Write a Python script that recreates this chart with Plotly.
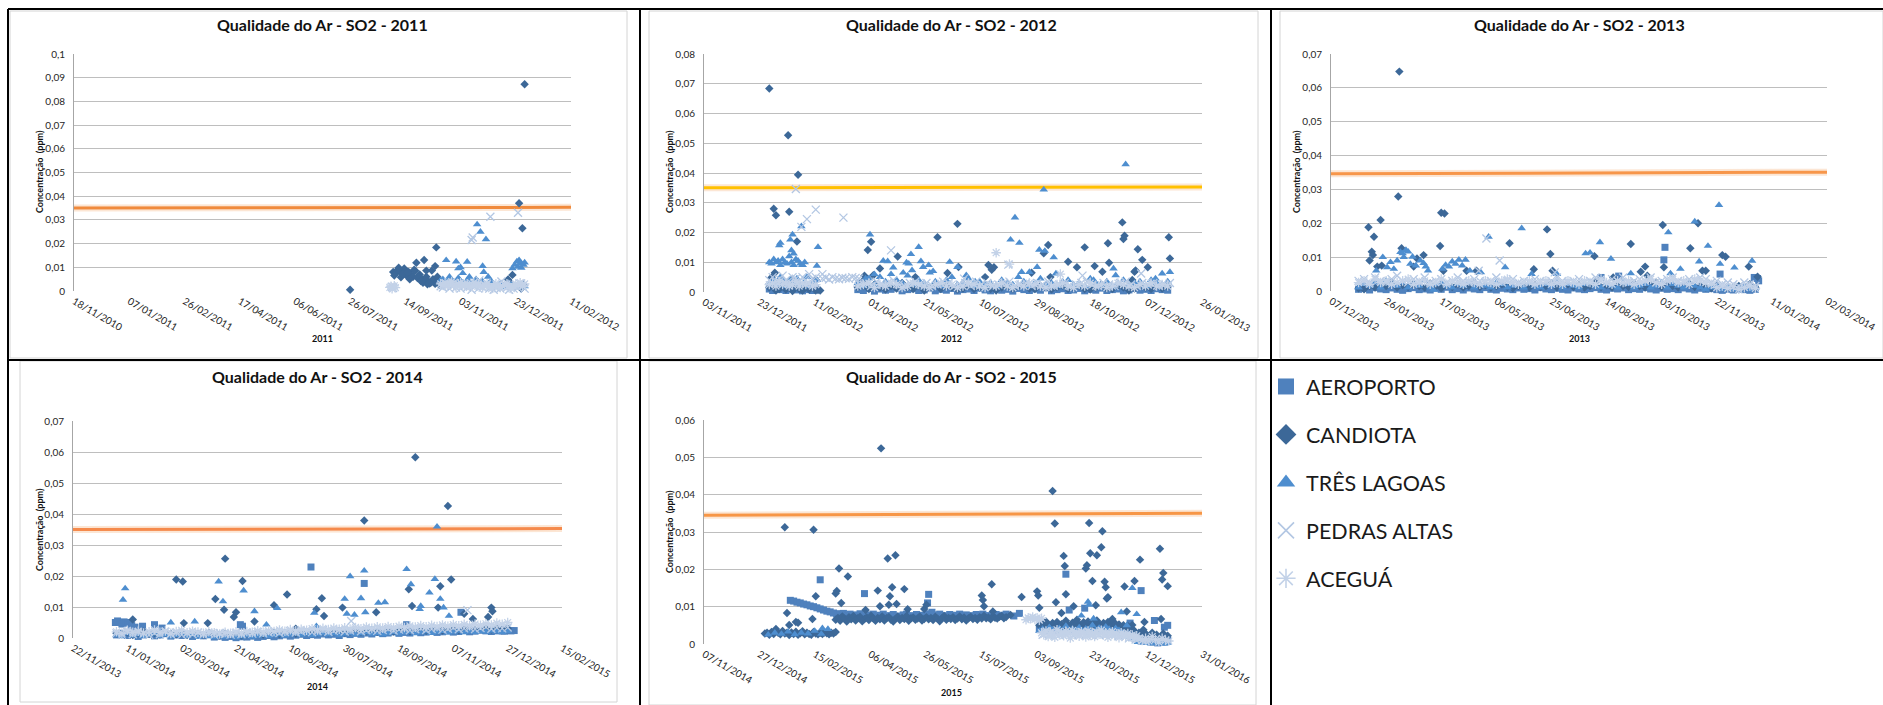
import plotly.graph_objects as go
from datetime import date, timedelta

W, H = 1883, 705
SERIES = ["AEROPORTO", "CANDIOTA", "TRÊS LAGOAS", "PEDRAS ALTAS", "ACEGUÁ"]
YEARS = [2011, 2012, 2013, 2014, 2015]

# ---------------- tick labels ----------------
XTICKS_2011 = ["18/11/2010", "07/01/2011", "26/02/2011", "17/04/2011", "06/06/2011", "26/07/2011", "14/09/2011", "03/11/2011", "23/12/2011", "11/02/2012"]
XTICKS_2012 = ["03/11/2011", "23/12/2011", "11/02/2012", "01/04/2012", "21/05/2012", "10/07/2012", "29/08/2012", "18/10/2012", "07/12/2012", "26/01/2013"]
XTICKS_2013 = ["07/12/2012", "26/01/2013", "17/03/2013", "06/05/2013", "25/06/2013", "14/08/2013", "03/10/2013", "22/11/2013", "11/01/2014", "02/03/2014"]
XTICKS_2014 = ["22/11/2013", "11/01/2014", "02/03/2014", "21/04/2014", "10/06/2014", "30/07/2014", "18/09/2014", "07/11/2014", "27/12/2014", "15/02/2015"]
XTICKS_2015 = ["07/11/2014", "27/12/2014", "15/02/2015", "06/04/2015", "26/05/2015", "15/07/2015", "03/09/2015", "23/10/2015", "12/12/2015", "31/01/2016"]
YTICKS_2011 = ["0", "0,01", "0,02", "0,03", "0,04", "0,05", "0,06", "0,07", "0,08", "0,09", "0,1"]
YTICKS_2012 = ["0", "0,01", "0,02", "0,03", "0,04", "0,05", "0,06", "0,07", "0,08"]
YTICKS_2013 = ["0", "0,01", "0,02", "0,03", "0,04", "0,05", "0,06", "0,07"]
YTICKS_2014 = ["0", "0,01", "0,02", "0,03", "0,04", "0,05", "0,06", "0,07"]
YTICKS_2015 = ["0", "0,01", "0,02", "0,03", "0,04", "0,05", "0,06"]

# limit line (ppb) at start / end of the axis
LIMIT_2011 = [35.0, 35.3]
LIMIT_2012 = [35.0, 35.3]
LIMIT_2013 = [34.6, 35.1]
LIMIT_2014 = [35.0, 35.3]
LIMIT_2015 = [34.5, 35.0]

# ---------------- data (ppb) : bands = (start, step days, values) ; pts = (date, value) ----------------
AERO_2011_BANDS = []
AERO_2011_PTS = []
CAND_2011_BANDS = [("2011-09-03", 2, [8, 7.5, 9, 8.5, 7, 9.5, 6.5, 8, 7, 6, 8.5, 5.5, 7, 5, 4.5, 6, 4, 3.5, 5, 3, 4, 2.5])]
CAND_2011_PTS = [("2011-07-26", 0.5), ("2011-09-04", 6.5), ("2011-09-08", 9.8), ("2011-09-10", 5.8), ("2011-09-12", 7.2), ("2011-09-16", 7.8),
                 ("2011-09-18", 5), ("2011-09-22", 9), ("2011-09-24", 11.9), ("2011-09-26", 6.2), ("2011-09-28", 4.2), ("2011-09-30", 3.5),
                 ("2011-10-01", 13.1), ("2011-10-03", 8.6), ("2011-10-04", 2.8), ("2011-10-06", 3.2), ("2011-10-08", 8.6), ("2011-10-11", 10.5),
                 ("2011-10-12", 18.4), ("2011-10-13", 6), ("2011-12-16", 4.9), ("2011-12-18", 3.5), ("2011-12-20", 6.8), ("2011-12-22", 2),
                 ("2011-12-26", 37), ("2011-12-28", 1), ("2011-12-29", 26.5), ("2011-12-30", 2.5), ("2011-12-31", 87.2)]
TRES_2011_BANDS = [("2011-10-16", 2, [4.5, 5, 4, 3.5, 5, 4.5, 3, 4, 5.5, 4, 3.5, 3, 4.5, 4, 3, 2.5, 5, 4, 3.5, 4, 3, 2.5, 3.5, 4, 3, 2, 2.5, 3, 2, 1.5, 2, 3, 2.5, 2, 1.5, 2, 2.5, 3, 2])]
TRES_2011_PTS = [("2011-10-21", 13), ("2011-10-24", 6), ("2011-10-27", 4), ("2011-10-30", 12.4), ("2011-11-01", 9.5), ("2011-11-03", 10),
                 ("2011-11-05", 7.5), ("2011-11-09", 12.3), ("2011-11-11", 6), ("2011-11-18", 28.1), ("2011-11-21", 25), ("2011-11-23", 10.5),
                 ("2011-11-24", 8), ("2011-11-26", 21.8), ("2011-11-28", 6), ("2011-12-20", 9.5), ("2011-12-22", 11), ("2011-12-24", 12.4),
                 ("2011-12-25", 10.2), ("2011-12-26", 13), ("2011-12-27", 11.7), ("2011-12-28", 9.8), ("2011-12-30", 11), ("2011-12-31", 12)]
PEDR_2011_BANDS = [("2011-10-16", 2, [2, 1.5, 3, 2.5, 1, 2, 3.5, 1.5, 2.5, 1, 2, 3, 1.5, 2.5, 0.5, 2, 3, 1, 2, 1.5, 2.5, 3, 1, 2, 0.5, 1.5, 2.5, 1, 2, 3, 1.5, 0.5, 2, 1, 2.5, 1.5, 3, 2, 1])]
PEDR_2011_PTS = [("2011-09-02", 1.8), ("2011-09-03", 1.2), ("2011-11-13", 21.5), ("2011-11-14", 22.6), ("2011-11-30", 31.3),
                 ("2011-12-25", 33), ("2011-12-10", 4), ("2011-11-20", 4.5)]
ACEG_2011_BANDS = [("2011-10-16", 2, [3, 2.5, 3.5, 2, 3, 4, 2.5, 1.5, 3, 3.5, 2, 2.5, 3, 1.5, 2, 3.5, 2.5, 3, 2, 1.5, 2.5, 3, 2, 1, 2, 3, 2.5, 1.5, 2, 2.5, 3, 2, 1, 2, 3, 2.5, 3.5, 2, 3])]
ACEG_2011_PTS = [("2011-08-31", 1.5), ("2011-09-01", 2), ("2011-09-02", 1), ("2011-09-04", 2.2), ("2011-09-05", 1.4)]

AERO_2012_BANDS = [("2012-01-01", 3, [1, 0.5, 1.5, 0.8, 1.2, 0.5, 1, 1.5, 0.7, 1, 0.4, 1.2, 0.8, 0.5, 1]),
                   ("2012-03-21", 5, [0.8, 0.5, 1.2, 0.3, 1, 0.6, 0.9, 1.4, 0.4, 0.8, 1.1, 0.5, 0.7, 1.3, 0.4, 0.9, 0.6, 1.2, 0.3, 0.8, 1, 0.5, 1.3, 0.7, 0.4, 1.1, 0.6, 0.9, 0.3, 1.2, 0.8, 0.5, 1, 0.6, 1.4, 0.4, 0.8, 1.1, 0.5, 0.7, 1.2, 0.4, 0.9, 0.6, 1.3, 0.5, 0.8, 1, 0.4, 0.7, 1.2, 0.6, 0.9, 0.5, 1.1, 0.8, 0.6])]
AERO_2012_PTS = []
CAND_2012_BANDS = [("2012-01-01", 3, [1.5, 2, 0.5, 1, 2.5, 0.8, 1.5, 0.3, 2, 1, 0.5, 1.5, 0.8, 2, 0.5]),
                   ("2012-03-21", 5, [1.5, 2, 1, 2.5, 1.5, 0.8, 2, 1.2, 3, 1.5, 1, 2, 0.5, 1.5, 2.5, 1, 2, 1.5, 0.8, 1.2, 2, 1, 1.5, 2.5, 1, 0.5, 1.5, 2, 1, 1.8, 2.5, 1.2, 1, 2, 1.5, 0.8, 1.5, 2.2, 1, 1.5, 2, 1, 0.8, 1.5, 2.5, 1.2, 1, 2, 1.5, 0.5, 1.2, 2, 1.5, 1, 2, 1.2, 1.8])]
CAND_2012_PTS = [("2012-01-01", 68.4), ("2012-01-03", 4.9), ("2012-01-05", 28), ("2012-01-06", 6.5), ("2012-01-07", 25.8), ("2012-01-18", 52.7),
                 ("2012-01-19", 27), ("2012-01-21", 4), ("2012-01-26", 17), ("2012-01-27", 39.4), ("2012-01-29", 1), ("2012-02-05", 2),
                 ("2012-02-12", 4), ("2012-02-14", 0.7), ("2012-02-16", 0.5), ("2012-03-25", 3.5), ("2012-03-27", 5.5), ("2012-03-30", 14.1),
                 ("2012-04-02", 16.9), ("2012-04-04", 5.6), ("2012-04-10", 7.9), ("2012-04-26", 11.9), ("2012-05-12", 5), ("2012-06-01", 18.4),
                 ("2012-06-10", 6.4), ("2012-06-19", 22.9), ("2012-06-20", 8.4), ("2012-07-14", 5), ("2012-07-17", 9.1), ("2012-07-20", 7.5),
                 ("2012-07-22", 8.3), ("2012-08-25", 6.5), ("2012-09-05", 13), ("2012-09-09", 15.8), ("2012-09-11", 5), ("2012-09-27", 10.2),
                 ("2012-10-05", 8.3), ("2012-10-12", 15), ("2012-10-21", 8.7), ("2012-10-28", 6.8), ("2012-11-02", 16.4), ("2012-11-03", 9.8),
                 ("2012-11-15", 23.4), ("2012-11-16", 17.8), ("2012-11-17", 18.9), ("2012-11-24", 4), ("2012-11-26", 6.8), ("2012-11-27", 7.2),
                 ("2012-11-29", 14.4), ("2012-12-03", 10.8), ("2012-12-08", 8.3), ("2012-12-27", 18.4), ("2012-12-28", 11.3)]
TRES_2012_BANDS = [("2012-01-01", 2, [10, 9.5, 11, 10, 10.5, 9, 11, 10, 9.5, 12, 10, 9, 11, 10.5, 9.5, 9, 10]),
                   ("2012-01-02", 3, [3, 4, 2.5, 5, 3.5, 2, 4, 3, 4.5, 2.5, 3, 5, 2, 3.5, 4]),
                   ("2012-03-21", 5, [3, 2, 4.5, 2.5, 5, 3.5, 6, 4, 3, 5.5, 2.5, 4, 3, 6.5, 3.5, 2, 4, 5, 2.5, 3, 4.5, 2, 3.5, 2.5, 3, 2, 4, 3, 2.5, 5, 3.5, 2, 3, 4.5, 2.5, 3, 2, 3.5, 4, 2.5, 3, 2, 4.5, 3, 2.5, 3.5, 2, 3, 4, 2.5, 3, 3.5, 2, 4, 3, 2.5, 3.5])]
TRES_2012_PTS = [("2012-01-10", 15.7), ("2012-01-11", 16.5), ("2012-01-20", 17.6), ("2012-01-21", 14), ("2012-01-22", 19.3), ("2012-01-23", 12.9),
                 ("2012-01-30", 22.1), ("2012-01-31", 9), ("2012-02-13", 8.8), ("2012-02-14", 15.1), ("2012-03-28", 4.5), ("2012-04-01", 19.3),
                 ("2012-04-05", 6), ("2012-04-13", 10.5), ("2012-04-17", 10.3), ("2012-04-22", 8.2), ("2012-05-01", 6.5), ("2012-05-04", 9.9),
                 ("2012-05-06", 9.5), ("2012-05-08", 12.7), ("2012-05-09", 7.3), ("2012-05-15", 15.1), ("2012-05-17", 10.3), ("2012-05-19", 8.4),
                 ("2012-05-24", 9), ("2012-05-28", 7), ("2012-06-12", 10.1), ("2012-06-19", 8.4), ("2012-06-27", 5.6), ("2012-07-05", 3.5),
                 ("2012-08-06", 17.6), ("2012-08-10", 25), ("2012-08-14", 16.5), ("2012-08-16", 6.7), ("2012-08-23", 6.7), ("2012-08-30", 8.4),
                 ("2012-09-01", 14.2), ("2012-09-05", 34.4), ("2012-09-06", 13.8), ("2012-09-14", 11.6), ("2012-09-16", 6.2), ("2012-10-20", 4),
                 ("2012-11-07", 7.9), ("2012-11-09", 5.6), ("2012-11-18", 42.9), ("2012-12-15", 4.5), ("2012-12-21", 6.2), ("2012-12-28", 6.7)]
PEDR_2012_BANDS = [("2012-01-01", 3, [4, 5, 3.5, 4.5, 5.5, 4, 3, 5, 4.5, 3.5, 5, 4, 6, 4.5, 5]),
                   ("2012-02-18", 3, [4.5, 4.8, 4.2, 5, 4.5, 4.3, 4.8, 4.6, 4.4, 5, 4.7, 4.5]),
                   ("2012-03-23", 5, [2.5, 3, 2, 3.5, 2.5, 3, 4, 2.5, 2, 3, 3.5, 2.5, 3, 2, 2.5, 3.5, 3, 2, 2.5, 3, 2, 3.5, 2.5, 3, 2, 2.5, 3, 3.5, 2, 2.5, 3, 2, 3, 2.5, 3.5, 2, 2.5, 3, 2, 2.5, 3, 3.5, 2.5, 2, 3, 2.5, 2, 3, 3.5, 2.5, 2, 3, 2.5, 3, 2, 2.5, 3])]
PEDR_2012_PTS = [("2012-01-25", 34.6), ("2012-01-30", 21.9), ("2012-02-04", 24.5), ("2012-02-12", 27.7), ("2012-02-18", 6), ("2012-03-08", 25),
                 ("2012-04-20", 14), ("2012-06-25", 4.5), ("2012-08-04", 9.2), ("2012-10-10", 5.5), ("2012-12-02", 6.2)]
ACEG_2012_BANDS = [("2012-01-01", 3, [2.5, 3, 2, 3.5, 2.5, 3, 2, 2.5, 3.5, 2, 3, 2.5, 3, 2, 2.5]),
                   ("2012-03-21", 5, [2, 2.5, 3, 1.5, 2.5, 2, 3, 2.5, 1.5, 2, 3, 2.5, 2, 1.5, 2.5, 3, 2, 2.5, 1.5, 2, 3, 2.5, 2, 1.5, 2.5, 2, 3, 2, 1.5, 2.5, 2, 3, 2.5, 2, 1.5, 2, 2.5, 3, 2, 1.5, 2.5, 2, 3, 2, 2.5, 1.5, 2, 3, 2.5, 2, 1.5, 2.5, 2, 3, 2, 2.5, 2])]
ACEG_2012_PTS = [("2012-07-24", 13.2), ("2012-08-05", 9.4), ("2012-09-20", 6)]

AERO_2013_BANDS = [("2013-01-01", 5, [0.5, 0.8, 0.3, 1, 0.6, 0.4, 0.9, 0.5, 0.2, 0.7, 1, 0.4, 0.6, 0.3, 0.8, 0.5, 1.1, 0.4, 0.7, 0.3, 0.9, 0.6, 0.4, 1, 0.5, 0.3, 0.8, 0.6, 0.4, 0.9, 0.5, 0.7, 0.3, 1, 0.6, 0.4, 0.8, 0.5, 0.3, 0.9, 0.6, 0.4, 0.7, 1, 0.5, 0.3, 0.8, 0.6, 0.9, 0.4, 0.7, 0.5, 1, 0.6, 0.3, 0.8, 0.5, 0.7, 0.4, 0.9, 0.6, 0.3, 0.8, 0.5, 0.7, 0.4, 0.2, 0.5, 0.3, 0.6, 0.4, 0.2, 0.5])]
AERO_2013_PTS = [("2013-10-06", 12.9), ("2013-10-05", 9.2), ("2013-08-09", 4), ("2013-08-25", 4.4), ("2013-11-25", 5), ("2013-12-26", 4),
                 ("2013-12-29", 3.7), ("2013-12-30", 3)]
CAND_2013_BANDS = [("2013-01-01", 5, [0.8, 0.5, 1.5, 1, 2, 1.5, 2.5, 1, 1.8, 1.2, 2, 1.5, 1, 2.2, 1.5, 0.8, 1.8, 1.2, 2, 1, 1.5, 2.5, 1.2, 1.8, 1, 1.5, 2, 1.2, 0.8, 1.5, 2, 1, 1.8, 1.2, 1.5, 2.2, 1, 1.5, 2, 1.2, 1.8, 1, 1.5, 2.5, 1.2, 1.8, 1, 2, 1.5, 1.2, 2.2, 1.5, 1, 1.8, 2.5, 1.2, 2, 1.5, 1, 1.8, 2.2, 1.2, 1.5, 1, 0.8, 1.5, 1.2, 0.8, 1, 1.5, 1.2, 2, 1])]
CAND_2013_PTS = [("2013-01-06", 0.8), ("2013-01-10", 18.8), ("2013-01-11", 9), ("2013-01-13", 11.6), ("2013-01-14", 10.6), ("2013-01-15", 16),
                 ("2013-01-18", 7.2), ("2013-01-21", 21), ("2013-01-22", 7.5), ("2013-02-06", 27.9), ("2013-02-07", 64.8), ("2013-02-09", 12.6),
                 ("2013-02-20", 7.2), ("2013-02-23", 9.6), ("2013-03-01", 10.6), ("2013-03-16", 13.3), ("2013-03-17", 23.1), ("2013-03-19", 6),
                 ("2013-03-20", 22.9), ("2013-04-09", 6), ("2013-04-18", 6), ("2013-05-18", 14.1), ("2013-06-09", 6.4), ("2013-06-21", 18.2),
                 ("2013-06-24", 10.9), ("2013-06-26", 6), ("2013-08-03", 10.3), ("2013-08-20", 4), ("2013-09-05", 13.9), ("2013-09-14", 5.7),
                 ("2013-09-18", 7.2), ("2013-09-20", 4.5), ("2013-10-04", 19.5), ("2013-10-05", 7), ("2013-10-29", 12.6), ("2013-11-05", 20),
                 ("2013-11-09", 6), ("2013-11-12", 6), ("2013-11-27", 10.6), ("2013-11-30", 10.1), ("2013-12-21", 7.2), ("2013-12-29", 4.2)]
TRES_2013_BANDS = [("2013-01-01", 5, [1, 2, 1.5, 2.5, 1, 3, 2, 1.5, 2.5, 1, 2, 1.5, 3, 1, 2, 2.5, 1.5, 1, 2, 1.5, 2.5, 1, 2, 1.5, 1, 2.5, 2, 1, 1.5, 2, 1, 2.5, 1.5, 1, 2, 1.5, 2.5, 1, 2, 1.5, 1, 2, 2.5, 1.5, 1, 2, 1.5, 1, 2.5, 2, 1, 1.5, 2, 1, 1.5, 2.5, 1, 2, 1.5, 1, 2, 1.5, 1, 0.5, 1, 1.5, 0.5, 1, 0.5, 1, 1.5, 0.5, 1])]
TRES_2013_PTS = [("2013-01-17", 6), ("2013-01-23", 10), ("2013-01-27", 7), ("2013-01-30", 8.5), ("2013-02-02", 6.5), ("2013-02-05", 9),
                 ("2013-02-08", 11.5), ("2013-02-10", 11.1), ("2013-02-11", 10), ("2013-02-13", 12.1), ("2013-02-15", 11.6), ("2013-02-17", 8),
                 ("2013-02-19", 10.1), ("2013-02-22", 7.5), ("2013-02-26", 9), ("2013-03-01", 8.2), ("2013-03-03", 7.2), ("2013-03-05", 6),
                 ("2013-03-10", 0.3), ("2013-03-18", 6.5), ("2013-03-21", 7.7), ("2013-03-24", 7.2), ("2013-03-27", 8.7), ("2013-03-30", 8),
                 ("2013-04-02", 9.2), ("2013-04-05", 7.5), ("2013-04-08", 9.2), ("2013-04-12", 6), ("2013-04-22", 5.5), ("2013-04-29", 16),
                 ("2013-05-14", 7), ("2013-05-29", 18.5), ("2013-06-07", 5), ("2013-06-30", 5), ("2013-07-26", 11.1), ("2013-07-30", 11.3),
                 ("2013-08-08", 14.4), ("2013-08-18", 9.5), ("2013-09-05", 5.2), ("2013-10-09", 17.3), ("2013-10-11", 5.2), ("2013-10-20", 6.5),
                 ("2013-11-02", 20.5), ("2013-11-06", 8.7), ("2013-11-14", 13.3), ("2013-11-24", 25.4), ("2013-11-25", 8), ("2013-12-08", 6.9),
                 ("2013-12-24", 8.9)]
PEDR_2013_BANDS = [("2013-01-01", 5, [3, 3.5, 2.5, 4, 3, 2.5, 3.5, 4.5, 3, 2.5, 3.5, 3, 4, 2.5, 3, 3.5, 2.5, 3, 4, 3, 2.5, 3.5, 3, 2.5, 3, 4, 2.5, 3, 3.5, 2.5, 3, 2.5, 3.5, 3, 2.5, 3, 4, 3, 2.5, 3, 3.5, 2.5, 3, 4, 3, 2.5, 3.5, 3, 4, 2.5, 3, 3.5, 3, 4, 2.5, 3, 3.5, 4, 3, 2.5, 3.5, 3, 4, 3.5, 2.5, 3, 2, 2.5, 2, 1.5, 2.5, 2, 1.5])]
PEDR_2013_PTS = [("2013-05-09", 9), ("2013-04-27", 15.5), ("2013-04-20", 6), ("2013-06-28", 5.5)]
ACEG_2013_BANDS = [("2013-01-01", 5, [2.5, 3, 2, 3.5, 2.5, 3, 2, 2.5, 3, 3.5, 2, 2.5, 3, 2, 2.5, 3.5, 2, 3, 2.5, 2, 3, 2.5, 2, 3, 2.5, 2, 3, 3.5, 2.5, 2, 2.5, 3, 2, 2.5, 3, 2, 2.5, 2, 3, 2.5, 2, 3, 2.5, 2, 3.5, 2.5, 2, 3, 2.5, 3, 2, 2.5, 3, 3.5, 2.5, 2, 3, 3.5, 2.5, 3, 2, 3.5, 3, 2.5, 2, 1, 1.5, 0.8, 1.2, 0.5, 1, 1.5, 0.8])]
ACEG_2013_PTS = []

AERO_2014_BANDS = [("2014-01-01", 5, [1, 1.5, 0.8, 1.2, 0.5, 1, 1.3, 0.7, 1, 1.4, 0.6, 1, 0.8, 1.2, 0.5, 0.9, 0.7, 1.1, 0.3, 0.6, 0.2, 0.5, 0.1, 0.4, 0.3, 0.6, 0.2, 0.5, 0.8, 0.4, 0.7, 1, 0.6, 0.9, 1.2, 0.8, 1.1, 0.9, 1.3, 1, 1.2, 0.8, 1.4, 1.1, 1.5, 1.2, 1.6, 1.3, 1.8, 1.4, 1.6, 2, 1.5, 1.8, 1.6, 2.1, 1.7, 1.9, 2.2, 1.8, 2, 2.3, 1.9, 2.1, 2.4, 2, 2.2, 2.5, 2.3, 2.1, 2.5, 2.3, 2.4])]
AERO_2014_PTS = [("2013-12-31", 5), ("2014-01-02", 5.5), ("2014-01-04", 5), ("2014-01-06", 4.5), ("2014-01-08", 5.2), ("2014-01-10", 4.8),
                 ("2014-01-12", 5), ("2014-01-15", 4), ("2014-01-18", 3.5), ("2014-01-25", 3.8), ("2014-02-05", 4.3), ("2014-02-12", 3.2),
                 ("2014-04-25", 4.3), ("2014-04-27", 3.8), ("2014-06-29", 22.9), ("2014-08-17", 17.6), ("2014-09-25", 4.3), ("2014-11-14", 8.3),
                 ("2014-12-15", 2.5), ("2014-12-18", 2.3), ("2014-12-21", 2.5), ("2014-12-24", 2.2), ("2014-12-27", 2.5), ("2014-12-30", 2.3),
                 ("2015-01-02", 2.4)]
CAND_2014_BANDS = [("2014-01-01", 5, [1.5, 1.2, 1.8, 1, 1.5, 2, 1.3, 1.6, 1.1, 1.7, 1.4, 1.2, 1.8, 1, 1.5, 1.3, 1, 1.6, 1.2, 0.8, 1.4, 1, 1.2, 0.8, 1.3, 1, 1.5, 1.1, 1.4, 1.7, 1.2, 1.6, 1.9, 1.4, 1.7, 2, 1.5, 1.8, 2.1, 1.6, 2, 2.3, 1.8, 2.1, 2.4, 1.9, 2.2, 2.5, 2, 2.3, 2.6, 2.1, 2.4, 2.7, 2.2, 2.5, 2.8, 2.3, 2.6, 2.9, 2.4, 2.7, 3, 2.5, 2.8, 3.1, 2.6, 2.9, 3.2, 2.7, 3, 2.8, 3.1])]
CAND_2014_PTS = [("2014-01-16", 6), ("2014-02-25", 18.9), ("2014-03-03", 18.2), ("2014-03-04", 4.8), ("2014-03-26", 4.8), ("2014-04-02", 12.6),
                 ("2014-04-10", 9.1), ("2014-04-11", 25.6), ("2014-04-19", 6.8), ("2014-04-21", 8.3), ("2014-04-27", 18.4), ("2014-05-08", 5.3),
                 ("2014-05-26", 10.6), ("2014-06-07", 14), ("2014-06-15", 3), ("2014-07-04", 9.3), ("2014-07-09", 12.8), ("2014-07-11", 7.1),
                 ("2014-07-28", 9.8), ("2014-08-17", 37.9), ("2014-08-28", 8.3), ("2014-09-27", 15.7), ("2014-09-30", 10.3), ("2014-10-03", 58.3),
                 ("2014-10-24", 9.8), ("2014-10-26", 16.7), ("2014-11-02", 42.6), ("2014-11-05", 18.9), ("2014-11-17", 7.8), ("2014-11-25", 6.1),
                 ("2014-12-09", 6.8), ("2014-12-12", 9.8), ("2014-12-13", 8.6)]
TRES_2014_BANDS = [("2014-01-01", 5, [1, 0.5, 1.5, 0.8, 1.2, 0.6, 1, 1.4, 0.7, 1.1, 0.5, 0.9, 1.3, 0.6, 1, 0.4, 0.8, 0.5, 0.3, 0.7, 0.4, 0.6, 0.2, 0.5, 0.8, 0.4, 0.7, 1, 0.6, 0.9, 1.2, 0.8, 1.1, 1.4, 1, 1.3, 0.9, 1.2, 1.5, 1.1, 1.4, 1, 1.3, 1.6, 1.2, 1.5, 1.8, 1.3, 1.6, 1.2, 1.5, 1.9, 1.4, 1.7, 2, 1.5, 1.8, 2.1, 1.6, 1.9, 2.2, 1.7, 2, 2.3, 1.8, 2.1, 1.9, 2.2, 2, 2.3, 2.1, 1.9, 2.2])]
TRES_2014_PTS = [("2014-01-07", 12.3), ("2014-01-09", 16), ("2014-02-20", 5), ("2014-03-14", 5.3), ("2014-04-05", 18.2), ("2014-04-09", 11.8),
                 ("2014-04-28", 15.3), ("2014-05-08", 8.6), ("2014-05-19", 4.3), ("2014-05-29", 9.6), ("2014-07-02", 8.1), ("2014-07-04", 3.8),
                 ("2014-07-30", 12.6), ("2014-08-01", 7.8), ("2014-08-04", 19.9), ("2014-08-08", 7.5), ("2014-08-14", 12.8), ("2014-08-17", 21.7),
                 ("2014-08-18", 8.3), ("2014-08-30", 11.3), ("2014-09-05", 11.5), ("2014-09-25", 22.2), ("2014-09-29", 17.3), ("2014-10-07", 9.3),
                 ("2014-10-08", 10.3), ("2014-10-16", 14.6), ("2014-10-21", 19), ("2014-10-23", 35.9), ("2014-10-26", 12.6), ("2014-10-29", 9.8),
                 ("2014-11-03", 7.1)]
PEDR_2014_BANDS = [("2014-01-01", 5, [1.5, 1, 2, 1.2, 1.8, 1.4, 1, 1.6, 1.2, 2, 1.3, 1.7, 1, 1.5, 1.2, 1.8, 1.1, 1.4, 1, 1.6, 1.3, 1.1, 1.5, 1.2, 1.7, 1.4, 1.9, 1.5, 1.8, 2.1, 1.6, 1.9, 2.2, 1.8, 2.1, 2.4, 1.9, 2.2, 2.5, 2, 2.3, 2.6, 2.1, 2.4, 2.7, 2.2, 2.5, 2.8, 2.3, 2.6, 2.9, 2.4, 2.7, 3, 2.5, 2.8, 3.1, 2.6, 2.9, 3.2, 2.7, 3, 3.3, 2.8, 3.1, 3.4, 2.9, 3.2, 3.5, 3, 3.3, 3.1, 3.4])]
PEDR_2014_PTS = [("2014-08-05", 5.5), ("2014-11-20", 9)]
ACEG_2014_BANDS = [("2014-01-01", 5, [2, 1.5, 2.5, 1.8, 2.2, 1.6, 2, 2.6, 1.8, 2.3, 1.5, 2.1, 2.5, 1.7, 2.2, 1.9, 1.5, 2, 1.7, 1.3, 1.8, 1.5, 2, 1.6, 2.1, 1.8, 2.3, 1.9, 2.4, 2.1, 2.6, 2.2, 2.7, 2.3, 2.8, 2.5, 3, 2.6, 3.1, 2.7, 3.2, 2.8, 3.3, 2.9, 3.4, 3, 3.5, 3.1, 3.6, 3.2, 3.7, 3.3, 3.8, 3.4, 3.9, 3.5, 4, 3.6, 4.1, 3.7, 4.2, 3.8, 4.3, 3.9, 4.4, 4, 4.5, 4.1, 4.6, 4.2, 4.8, 4.4, 5])]
ACEG_2014_PTS = []

AERO_2015_BANDS = [("2015-01-24", 3, [11.7, 11.5, 11.2, 11, 10.7, 10.5, 10.2, 10, 9.7, 9.4, 9.1, 8.8, 8.6, 8.3, 8.1]),
                   ("2015-03-07", 3, [8, 7.8, 8.2, 7.6, 8, 7.5, 7.8, 8.1, 7.6, 7.3, 7.8, 8, 7.5, 7.7, 8, 7.4, 7.6, 7.9, 7.5, 7.2, 7.8, 8, 7.4, 7.6, 7.9, 7.5, 7.7, 8.1, 7.5, 7.3, 7.8, 8, 7.6, 7.4, 7.9, 7.6, 7.7, 8, 7.5, 7.8, 7.6, 7.4, 7.9, 7.7, 8, 7.6, 7.5, 7.8, 7.9, 7.5, 7.7, 8]),
                   ("2015-09-06", 3, [4, 4.5, 3.5, 4.2, 3.8, 4.6, 3.3, 4, 4.4, 3.6, 4.1, 3.9, 4.7, 3.4, 4.2, 3.8, 4.5, 3.5, 4, 4.3, 3.7, 4.1, 3.6, 4.4, 3.9, 3.2, 3.8, 3.4, 3]),
                   ("2015-12-04", 3, [1.5, 0.8, 2, 1, 0.5, 1.2, 0.3, 0.8, 0.5, 1])]
AERO_2015_PTS = [("2015-02-20", 17.2), ("2015-04-01", 13.5), ("2015-05-28", 11), ("2015-05-29", 13.3), ("2015-06-01", 8.5), ("2015-08-14", 7.5),
                 ("2015-08-19", 8.2), ("2015-09-30", 18.7), ("2015-10-03", 9.1), ("2015-10-11", 5.2), ("2015-10-17", 9.6), ("2015-11-27", 5.6),
                 ("2015-12-07", 14.3), ("2015-12-19", 6.3), ("2015-12-28", 4.5), ("2015-12-31", 5)]
CAND_2015_BANDS = [("2015-01-01", 2, [2.8, 3, 2.5, 3.2, 2.7, 4, 3, 2.6, 3.5, 2.8, 3, 2.4, 3.1, 2.7, 3.3, 2.5, 2.9, 3.4, 2.6, 3, 2.7, 2.5, 3.2, 2.8, 2.6, 3, 2.7, 3.1, 2.9, 2.6, 3, 2.8, 3.2]),
                   ("2015-03-06", 2, [6.5, 7, 6.2, 7.4, 6.8, 6, 7.2, 6.6, 7.5, 6.3, 6.9, 7.3, 6.1, 6.7, 7.1, 6.4, 7.6, 6.8, 6.2, 7, 6.6, 7.4, 6.3, 6.9, 7.2, 6.5, 6, 6.8, 7.3, 6.4, 7, 6.7, 7.5, 6.2, 6.9, 7.1, 6.5, 6.8, 7.4, 6.3, 6.7, 7.2, 6.6, 7, 6.4, 7.3, 6.8, 6.1, 6.9, 7.5, 6.5, 7, 6.7, 7.2, 6.4, 6.8, 7.4, 6.6, 7.1, 6.3, 6.9, 7.3, 6.7, 7, 6.5, 7.2, 6.8, 7.6, 6.9, 7.1, 6.6, 7.4, 7, 6.8, 7.3, 7.5, 6.9, 7.2]),
                   ("2015-09-06", 2, [5, 5.5, 4.5, 6, 5.2, 4.8, 5.6, 4.4, 5.9, 5, 5.3, 4.6, 6.2, 5.1, 4.8, 5.7, 5.4, 6.5, 5, 4.7, 5.8, 5.2, 6, 4.9, 5.5, 5.1, 6.3, 5.4, 4.8, 5.6, 5, 5.9, 4.6, 5.3, 5.7, 4.9, 5.2, 4.5, 5, 4.2, 4.8, 4.4, 4]),
                   ("2015-12-01", 2, [3.5, 2.5, 3, 2, 3.8, 2.8, 1.5, 2.2, 3, 1.8, 2.5, 1.2, 2, 2.8, 1.5, 2.2])]
CAND_2015_PTS = [("2015-01-19", 31.3), ("2015-01-21", 8.3), ("2015-01-23", 5.1), ("2015-01-29", 5.9), ("2015-01-31", 5.7), ("2015-02-13", 6.7),
                 ("2015-02-14", 30.6), ("2015-02-16", 12.8), ("2015-03-06", 13.5), ("2015-03-07", 14.2), ("2015-03-09", 20.2), ("2015-03-11", 11),
                 ("2015-03-17", 18.1), ("2015-04-02", 9.1), ("2015-04-13", 14.3), ("2015-04-15", 10.1), ("2015-04-16", 52.4), ("2015-04-22", 22.9),
                 ("2015-04-23", 10.5), ("2015-04-24", 12.8), ("2015-04-26", 15.2), ("2015-04-29", 23.8), ("2015-04-30", 10.7), ("2015-05-07", 14.7),
                 ("2015-05-10", 9.3), ("2015-05-25", 9.4), ("2015-05-27", 10.5), ("2015-07-16", 13), ("2015-07-17", 11.8), ("2015-07-18", 10.1),
                 ("2015-07-25", 16), ("2015-07-26", 8.7), ("2015-08-11", 7.8), ("2015-08-21", 12.6), ("2015-09-04", 14.1), ("2015-09-05", 13),
                 ("2015-09-06", 9.7), ("2015-09-18", 41), ("2015-09-20", 32.3), ("2015-09-21", 11.2), ("2015-09-26", 8.3), ("2015-09-28", 23.6),
                 ("2015-09-29", 20.9), ("2015-09-30", 13.3), ("2015-10-07", 10.1), ("2015-10-18", 20.2), ("2015-10-19", 21.1), ("2015-10-21", 32.4),
                 ("2015-10-22", 24.3), ("2015-10-24", 16.9), ("2015-10-27", 10.4), ("2015-10-28", 23.8), ("2015-11-01", 25.9), ("2015-11-02", 30.2),
                 ("2015-11-04", 16.7), ("2015-11-05", 15.2), ("2015-11-06", 12.2), ("2015-11-07", 12.5), ("2015-11-11", 6.7), ("2015-11-22", 15.4),
                 ("2015-11-24", 8.7), ("2015-11-29", 5.1), ("2015-12-01", 16.9), ("2015-12-06", 22.6), ("2015-12-10", 5.9), ("2015-12-24", 25.5),
                 ("2015-12-25", 6.7), ("2015-12-26", 17.3), ("2015-12-27", 19), ("2015-12-31", 15.5)]
TRES_2015_BANDS = [("2015-01-04", 6, [2.5, 3, 2.7, 3.3, 2.6, 3, 2.8, 3.5, 2.7, 4]),
                   ("2015-09-06", 3, [3.5, 4, 3.2, 4.5, 3.8, 3.4, 4.2, 3.6, 4.8, 3.3, 4, 3.7, 4.4, 3.5, 4.1, 3.9, 5, 3.6, 4.3, 3.8, 4.6, 4, 3.5, 4.2, 3.7, 3, 2.5, 2, 1.5]),
                   ("2015-12-04", 3, [0.5, 1, 0.3, 0.8, 0.2, 0.6, 0.4, 0.1, 0.5, 0.3])]
TRES_2015_PTS = [("2015-02-22", 4.2), ("2015-10-14", 7.6), ("2015-10-20", 11.3), ("2015-10-21", 10.5), ("2015-10-25", 6.8), ("2015-11-19", 8.5),
                 ("2015-11-24", 5), ("2015-11-29", 15), ("2015-12-03", 8), ("2015-12-28", 0.2)]
PEDR_2015_BANDS = [("2015-09-09", 3, [2.5, 3, 2.2, 3.4, 2.8, 2.4, 3.1, 2.6, 3.5, 2.3, 2.9, 2.7, 3.2, 2.5, 3, 2.8, 3.3, 2.4, 2.9, 2.6, 3.1, 2.5, 2.8, 2.2, 2.6, 2, 1.5, 1.8, 1.2, 1.5, 1, 0.8])]
PEDR_2015_PTS = []
ACEG_2015_BANDS = [("2015-08-25", 2, [6.5, 7, 6.8, 7.2, 6.6, 7, 6.4, 6.9]),
                   ("2015-09-08", 2, [3, 2.5, 3.5, 2, 3.2, 2.6, 1.8, 3.8, 2.4, 3, 2.2, 3.4, 2.8, 1.6, 3.6, 2.5, 3.1, 2.1, 3.3, 2.7, 1.9, 3.5, 2.3, 2.9, 2, 3.2, 2.6, 3.7, 2.4, 3, 1.8, 2.8, 3.3, 2.2, 2.7, 1.7, 3, 2.5, 2.1, 2.8, 1.9, 2.4, 1.6, 2.2, 1.5]),
                   ("2015-12-08", 3, [1, 1.5, 0.8, 2, 1.2, 0.5, 1.5, 1, 0.8])]
ACEG_2015_PTS = []

# ---------------- assemble ----------------
XTICKS = {2011: XTICKS_2011, 2012: XTICKS_2012, 2013: XTICKS_2013, 2014: XTICKS_2014, 2015: XTICKS_2015}
YTICKS = {2011: YTICKS_2011, 2012: YTICKS_2012, 2013: YTICKS_2013, 2014: YTICKS_2014, 2015: YTICKS_2015}
LIMITS = {2011: LIMIT_2011, 2012: LIMIT_2012, 2013: LIMIT_2013, 2014: LIMIT_2014, 2015: LIMIT_2015}
DATA = {
    2011: [(AERO_2011_BANDS, AERO_2011_PTS), (CAND_2011_BANDS, CAND_2011_PTS), (TRES_2011_BANDS, TRES_2011_PTS), (PEDR_2011_BANDS, PEDR_2011_PTS), (ACEG_2011_BANDS, ACEG_2011_PTS)],
    2012: [(AERO_2012_BANDS, AERO_2012_PTS), (CAND_2012_BANDS, CAND_2012_PTS), (TRES_2012_BANDS, TRES_2012_PTS), (PEDR_2012_BANDS, PEDR_2012_PTS), (ACEG_2012_BANDS, ACEG_2012_PTS)],
    2013: [(AERO_2013_BANDS, AERO_2013_PTS), (CAND_2013_BANDS, CAND_2013_PTS), (TRES_2013_BANDS, TRES_2013_PTS), (PEDR_2013_BANDS, PEDR_2013_PTS), (ACEG_2013_BANDS, ACEG_2013_PTS)],
    2014: [(AERO_2014_BANDS, AERO_2014_PTS), (CAND_2014_BANDS, CAND_2014_PTS), (TRES_2014_BANDS, TRES_2014_PTS), (PEDR_2014_BANDS, PEDR_2014_PTS), (ACEG_2014_BANDS, ACEG_2014_PTS)],
    2015: [(AERO_2015_BANDS, AERO_2015_PTS), (CAND_2015_BANDS, CAND_2015_PTS), (TRES_2015_BANDS, TRES_2015_PTS), (PEDR_2015_BANDS, PEDR_2015_PTS), (ACEG_2015_BANDS, ACEG_2015_PTS)],
}

# ---------------- layout (pixels) ----------------
BOX = {2011: (74, 571, 54, 291), 2012: (704, 1202, 54, 292), 2013: (1331, 1827, 54, 291),
       2014: (73, 562, 421, 638), 2015: (704, 1202, 420, 644)}
TITLE_POS = {2011: (322, 24), 2012: (952, 24), 2013: (1579, 24), 2014: (317, 376), 2015: (952, 376)}
XTITLE_POS = {2011: (322, 338), 2012: (952, 338), 2013: (1579, 338), 2014: (317, 686), 2015: (952, 692)}
YTITLE_POS = {2011: (39, 172), 2012: (669, 172), 2013: (1296, 172), 2014: (39, 530), 2015: (669, 532)}
LIMIT_COLOR = {2011: "#F08A3C", 2012: "#FFC000", 2013: "#F7964A", 2014: "#F58A4C", 2015: "#F79646"}

STYLE = {
    "AEROPORTO": dict(symbol="square", size=7, color="#4F81BD"),
    "CANDIOTA": dict(symbol="diamond", size=6.5, color="#3C6898"),
    "TRÊS LAGOAS": dict(symbol="triangle-up", size=7.5, color="#4E8ECF"),
    "PEDRAS ALTAS": dict(symbol="x-thin-open", size=8, color="#B3C7E3", line=dict(color="#B3C7E3", width=1.3)),
    "ACEGUÁ": dict(symbol="asterisk-open", size=8, color="#C3D2E8", line=dict(color="#C3D2E8", width=1.3)),
}


def px(x):
    return x / W


def py(y):
    return 1 - y / H


def to_iso(lbl):
    d, m, y = lbl.split("/")
    return f"{y}-{m}-{d}"


def expand(bands, pts):
    xs, ys = [], []
    for start, step, vals in bands:
        d0 = date.fromisoformat(start)
        for i, v in enumerate(vals):
            xs.append((d0 + timedelta(days=i * step)).isoformat())
            ys.append(v / 1000)
    for d, v in pts:
        xs.append(d)
        ys.append(v / 1000)
    return xs, ys


fig = go.Figure()
annotations = []
FONT = "Lato"

for k, yr in enumerate(YEARS, start=1):
    xa = "x" if k == 1 else f"x{k}"
    ya = "y" if k == 1 else f"y{k}"
    x0, x1, y0, y1 = BOX[yr]
    xt = [to_iso(t) for t in XTICKS[yr]]
    yv = [float(t.replace(",", ".")) for t in YTICKS[yr]]
    lim = LIMITS[yr]
    fig.add_trace(go.Scatter(x=[xt[0], xt[-1]], y=[lim[0] / 1000, lim[1] / 1000], mode="lines",
                             line=dict(color="rgba(240,140,60,0.22)", width=7), xaxis=xa, yaxis=ya,
                             showlegend=False, hoverinfo="skip", cliponaxis=False))
    fig.add_trace(go.Scatter(x=[xt[0], xt[-1]], y=[lim[0] / 1000, lim[1] / 1000], mode="lines",
                             line=dict(color=LIMIT_COLOR[yr], width=3), xaxis=xa, yaxis=ya,
                             showlegend=False, hoverinfo="skip", cliponaxis=False))
    for name, (bands, pts) in zip(SERIES, DATA[yr]):
        xs, ys = expand(bands, pts)
        if not xs:
            continue
        fig.add_trace(go.Scatter(x=xs, y=ys, mode="markers", marker=STYLE[name], name=name,
                                 xaxis=xa, yaxis=ya, showlegend=False, cliponaxis=False))
    fig.update_layout(**{
        ("xaxis" if k == 1 else f"xaxis{k}"): dict(
            domain=[px(x0), px(x1)], anchor=ya, type="date", range=[xt[0], xt[-1]],
            tickmode="array", tickvals=xt, ticktext=XTICKS[yr], tickangle=30,
            tickfont=dict(family=FONT, size=10, color="#262626"), showgrid=False, zeroline=False,
            showline=False, ticks="", ticklabelstandoff=2, ticklabeloverflow="allow",
            automargin=False, fixedrange=True),
        ("yaxis" if k == 1 else f"yaxis{k}"): dict(
            domain=[py(y1), py(y0)], anchor=xa, range=[0, yv[-1]], tickmode="array",
            tickvals=yv, ticktext=YTICKS[yr], tickfont=dict(family=FONT, size=10, color="#262626"),
            showgrid=True, gridcolor="#BEBEBE", gridwidth=1, zeroline=False, showline=True,
            linecolor="#A6A6A6", linewidth=1, ticks="", ticklabelstandoff=6, automargin=False,
            fixedrange=True),
    })
    tx, ty = TITLE_POS[yr]
    annotations.append(dict(x=px(tx), y=py(ty), xref="paper", yref="paper", showarrow=False,
                            text=f"<b>Qualidade do Ar - SO2 - {yr}</b>", xanchor="center", yanchor="middle",
                            font=dict(family=FONT, size=16, color="#111")))
    tx, ty = XTITLE_POS[yr]
    annotations.append(dict(x=px(tx), y=py(ty), xref="paper", yref="paper", showarrow=False,
                            text=f"<b>{yr}</b>", xanchor="center", yanchor="middle",
                            font=dict(family=FONT, size=9, color="#111")))
    tx, ty = YTITLE_POS[yr]
    annotations.append(dict(x=px(tx), y=py(ty), xref="paper", yref="paper", showarrow=False,
                            text="<b>Concentração  (ppm)</b>", textangle=-90, xanchor="center", yanchor="middle",
                            font=dict(family=FONT, size=9, color="#111")))

# legend entries
for name in SERIES:
    st = dict(STYLE[name])
    st["size"] = 16
    if "line" in st:
        st["line"] = dict(color=st["line"]["color"], width=1.6)
    fig.add_trace(go.Scatter(x=[None], y=[None], mode="markers", marker=st, name=name,
                             legendgroup=name, showlegend=True, xaxis="x", yaxis="y"))

shapes = []
for (a, b, c, d) in [(10, 11, 627, 358), (649, 11, 1258, 358), (1280, 11, 1883, 358), (20, 361, 617, 702), (649, 361, 1256, 705)]:
    shapes.append(dict(type="rect", xref="paper", yref="paper", x0=px(a), x1=px(c), y0=py(d), y1=py(b),
                       line=dict(color="#D4D4D4", width=1), layer="below"))
for (a, b, c, d) in [(8, 9, 1883, 9), (8, 360, 1883, 360), (8, 9, 8, 705), (640, 9, 640, 705), (1271, 9, 1271, 705)]:
    shapes.append(dict(type="line", xref="paper", yref="paper", x0=px(a), x1=px(c), y0=py(b), y1=py(d),
                       line=dict(color="#000", width=2)))

fig.update_layout(
    width=W, height=H, autosize=False, margin=dict(l=0, r=0, t=0, b=0, autoexpand=False),
    paper_bgcolor="white", plot_bgcolor="white",
    annotations=annotations, shapes=shapes,
    showlegend=True,
    legend=dict(x=px(1266), y=py(366), xanchor="left", yanchor="top", orientation="v",
                font=dict(family=FONT, size=21.5, color="#1A1A1A"), tracegroupgap=17,
                bgcolor="rgba(0,0,0,0)", itemsizing="trace"),
)

fig.write_html("out.html", config={"displayModeBar": False},
               post_script="document.body.style.margin='0px';document.body.style.overflow='hidden';")
